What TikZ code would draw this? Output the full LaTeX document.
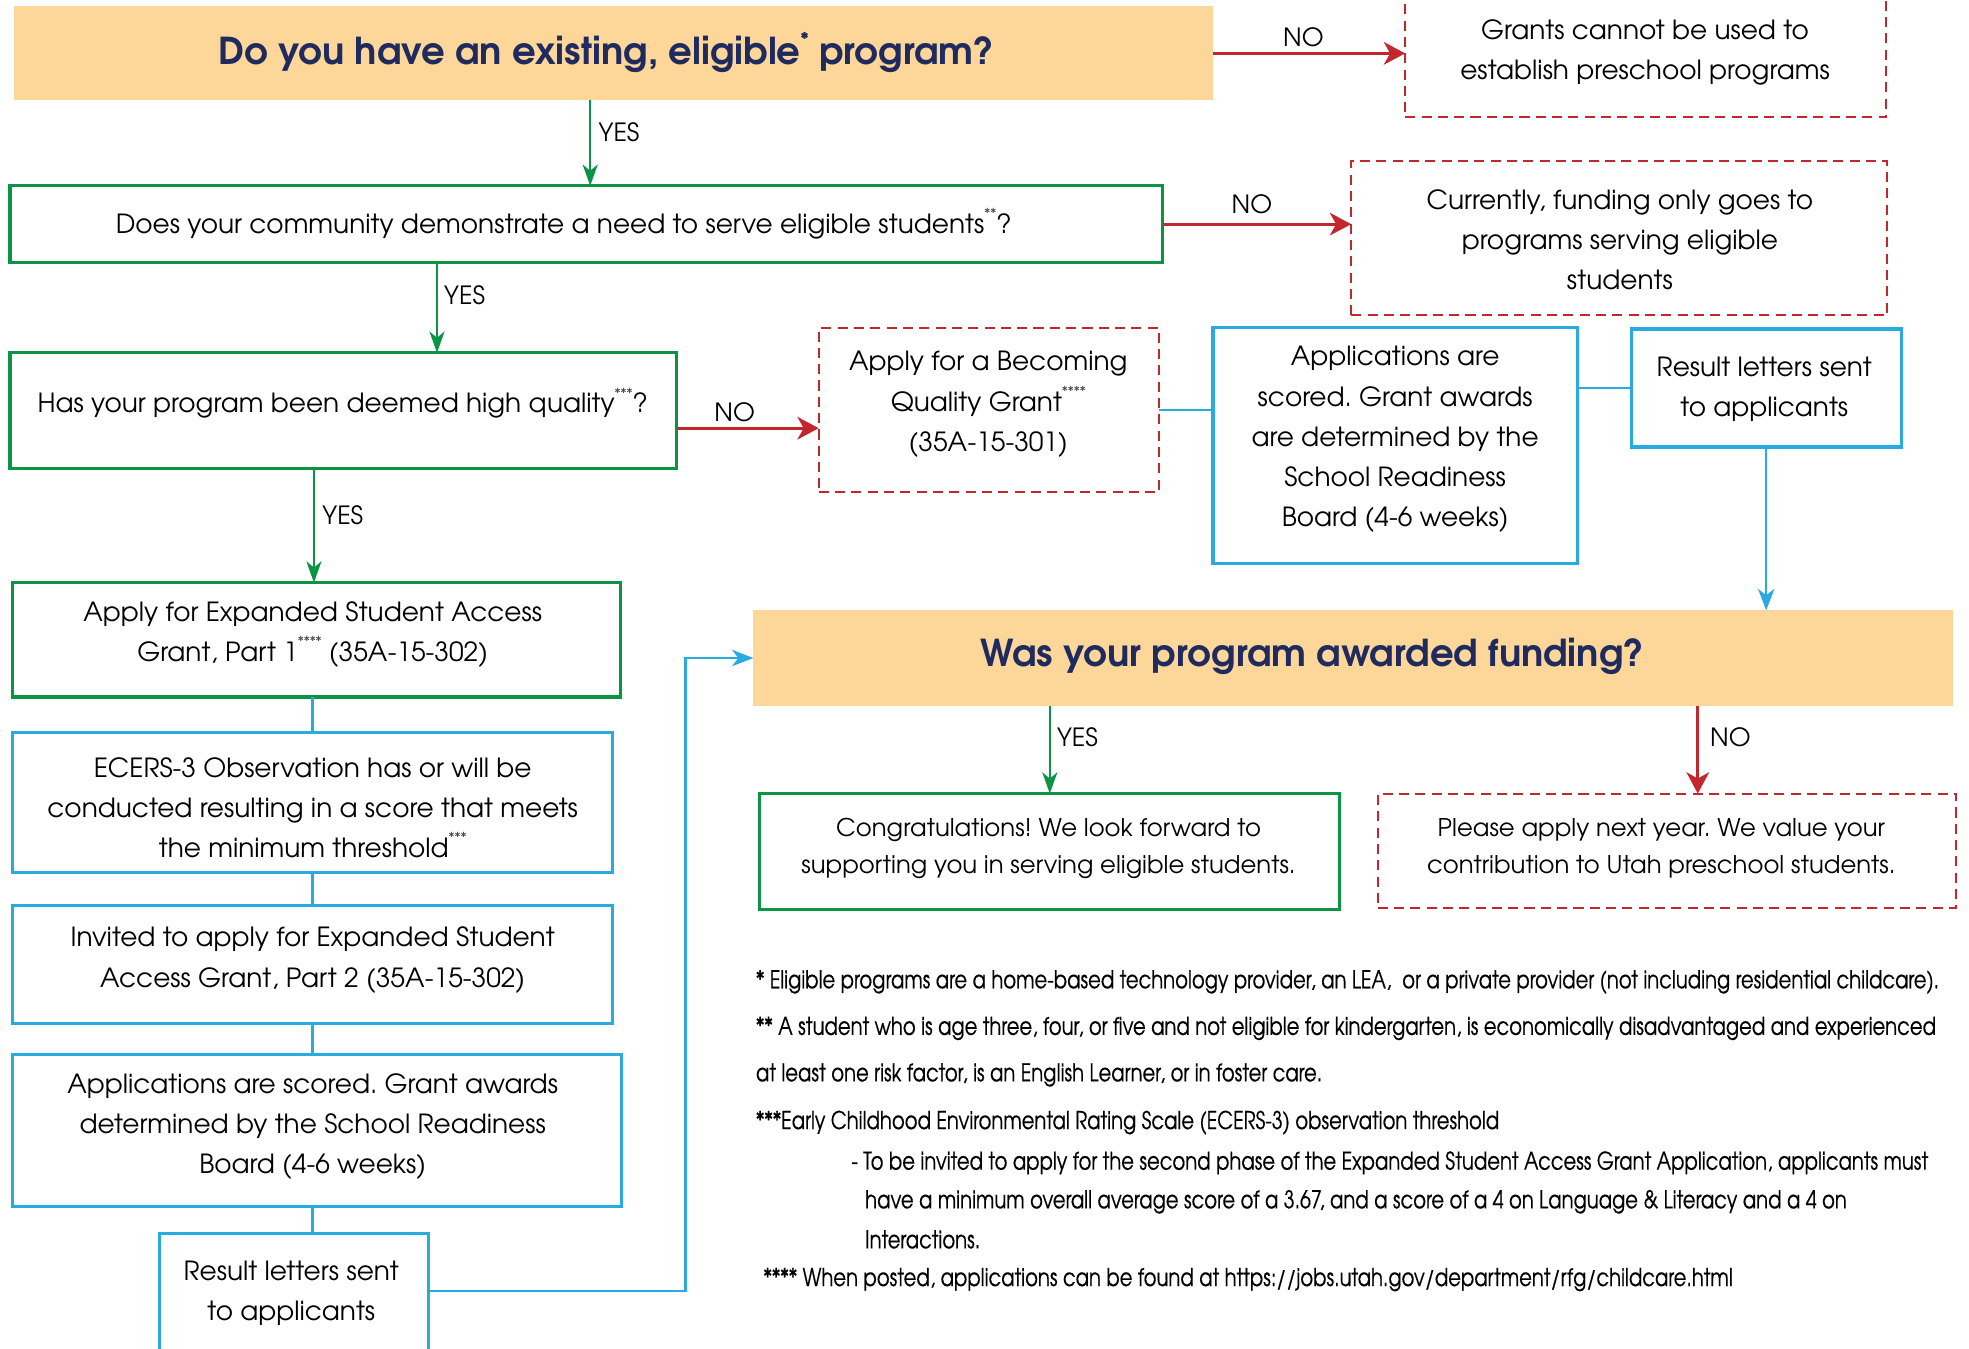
\documentclass[tikz,border=0pt]{standalone}
\usepackage{fontspec}
\setmainfont{TeX Gyre Adventor}
\newfontfamily\condfont[FakeStretch=0.8,FakeBold=0.4]{TeX Gyre Adventor}
\usetikzlibrary{arrows.meta}
\definecolor{orfill}{HTML}{FDD699}
\definecolor{navy}{HTML}{1F2A5E}
\definecolor{grn}{HTML}{0B9444}
\definecolor{rd}{HTML}{C1272D}
\definecolor{blu}{HTML}{29ABE2}
\newcommand\fnm[1]{\raisebox{0.55em}{\fontsize{11}{11}\selectfont\color{black!70}#1}}
\newcommand\fnt[1]{\raisebox{0.55em}{\fontsize{13}{13}\selectfont #1}}
\frenchspacing
\begin{document}
\begin{tikzpicture}[x=1pt,y=-1pt,
  every node/.style={inner sep=0pt, outer sep=0pt},
  qbox/.style={rectangle, fill=orfill},
  gbox/.style={rectangle, draw=grn, line width=2.5pt},
  bbox/.style={rectangle, draw=blu, line width=2.5pt},
  rbox/.style={rectangle, draw=rd, line width=1.6pt, dash pattern=on 8pt off 5pt},
  txt/.style={align=center, font=\fontsize{21}{32}\selectfont, text=black},
  stxt/.style={align=center, font=\fontsize{19.4}{29}\selectfont, text=black},
  ttl/.style={font=\bfseries\fontsize{29.5}{32}\selectfont, text=navy},
  lbl/.style={font=\fontsize{20}{24}\selectfont},
  garr/.style={draw=grn, line width=1.5pt, -{Stealth[length=17pt,width=12pt,inset=5pt]}},
  rarr/.style={draw=rd, line width=2.5pt, -{Stealth[length=17pt,width=18pt,inset=5pt]}},
  barr/.style={draw=blu, line width=2pt, -{Stealth[length=17pt,width=13pt,inset=5pt]}},
  bline/.style={draw=blu, line width=2pt},
  fn/.style={anchor=west, font=\condfont\fontsize{19.5}{24}\selectfont}
]
\useasboundingbox (0,0) rectangle (1568,1074);
% helper coordinates
\coordinate (X470) at (470,0);
\coordinate (X348) at (348,0);
\coordinate (X250) at (250,0);
\coordinate (X249) at (249,0);
\coordinate (X546) at (546,0);
\coordinate (X836) at (836,0);
\coordinate (X1352) at (1352,0);
\coordinate (Y341) at (0,341);
\coordinate (Y1028) at (0,1028);

% boxes
\node[qbox, minimum width=955pt, minimum height=75pt] (q1) at (488.5,42.5) {};
\node[rbox, minimum width=383pt, minimum height=104pt] (n1) at (1310.5,41.5) {};
\node[gbox, minimum width=918pt, minimum height=61pt] (q2) at (467,178.5) {};
\node[rbox, minimum width=427pt, minimum height=123pt] (n2) at (1289.5,189.5) {};
\node[gbox, minimum width=531pt, minimum height=92pt] (q3) at (273.5,327) {};
\node[rbox, minimum width=271pt, minimum height=131pt] (b1) at (787.5,326.5) {};
\node[bbox, minimum width=290pt, minimum height=188pt] (s1) at (1111,355) {};
\node[bbox, minimum width=215pt, minimum height=94pt] (r1) at (1406.5,309) {};
\node[qbox, minimum width=955pt, minimum height=76pt] (q4) at (1077.5,524) {};
\node[gbox, minimum width=462pt, minimum height=92pt] (c1) at (836,678) {};
\node[rbox, minimum width=461pt, minimum height=91pt] (n3) at (1327.5,677.5) {};
\node[gbox, minimum width=484pt, minimum height=91pt] (e1) at (252,509.5) {};
\node[bbox, minimum width=478pt, minimum height=112pt] (e2) at (249,639) {};
\node[bbox, minimum width=478pt, minimum height=94pt] (e3) at (249,768) {};
\node[bbox, minimum width=485pt, minimum height=121pt] (e4) at (252.5,900.5) {};
\node[bbox, minimum width=214pt, minimum height=98pt] (e5) at (234,1031) {};

% texts
\node[ttl] (q1t) at (483,42) {Do you have an existing, eligible\fnt{*} program?};
\node[txt] (n1t) at (1310,42) {Grants cannot be used to\\establish preschool programs};
\node[txt] (q2t) at (449,178) {Does your community demonstrate a need to serve eligible students\fnm{**}?};
\node[txt] (n2t) at (1290,191) {Currently, funding only goes to\\programs serving eligible\\students};
\node[txt] (q3t) at (273,321) {Has your program been deemed high quality\fnm{***}?};
\node[txt] (b1t) at (787,322) {Apply for a Becoming\\Quality Grant\fnm{****}\\(35A-15-301)};
\node[txt] (s1t) at (1111,350) {Applications are\\scored. Grant awards\\are determined by the\\School Readiness\\Board (4-6 weeks)};
\node[txt] (r1t) at (1405,310) {Result letters sent\\to applicants};
\node[ttl] (q4t) at (1045,523) {Was your program awarded funding?};
\node[stxt] (c1t) at (835,675.5) {Congratulations! We look forward to\\supporting you in serving eligible students.};
\node[stxt] (n3t) at (1323,675.5) {Please apply next year. We value your\\contribution to Utah preschool students.};
\node[txt] (e1t) at (249,505) {Apply for Expanded Student Access\\Grant, Part 1\fnm{****} (35A-15-302)};
\node[txt] (e2t) at (249,643) {ECERS-3 Observation has or will be\\conducted resulting in a score that meets\\the minimum threshold\fnm{***}};
\node[txt] (e3t) at (249,764.5) {Invited to apply for Expanded Student\\Access Grant, Part 2 (35A-15-302)};
\node[txt] (e4t) at (249,897) {Applications are scored. Grant awards\\determined by the School Readiness\\Board (4-6 weeks)};
\node[txt] (e5t) at (232,1030) {Result letters sent\\to applicants};

% connectors
\draw[rarr] (q1.east) -- (q1.east -| n1.west);
\draw[garr] (X470 |- q1.south) -- (X470 |- q2.north);
\draw[rarr] (q2.east) -- (q2.east -| n2.west);
\draw[garr] (X348 |- q2.south) -- (X348 |- q3.north);
\draw[rarr] (q3.east |- Y341) -- (b1.west |- Y341);
\draw[bline] (b1.east) -- (b1.east -| s1.west);
\draw[bline] (s1.east |- r1.west) -- (r1.west);
\draw[barr] (r1.south) -- (r1.south |- q4.north);
\draw[garr] (X250 |- q3.south) -- (X250 |- e1.north);
\draw[bline] (X249 |- e1.south) -- (X249 |- e2.north);
\draw[bline] (X249 |- e2.south) -- (X249 |- e3.north);
\draw[bline] (X249 |- e3.south) -- (X249 |- e4.north);
\draw[bline] (X249 |- e4.south) -- (X249 |- e5.north);
\draw[barr] (e5.east |- Y1028) -- (X546 |- Y1028) -- (X546 |- q4.west) -- (q4.west);
\draw[garr] (X836 |- q4.south) -- (X836 |- c1.north);
\draw[rarr] (X1352 |- q4.south) -- (X1352 |- n3.north);

% labels
\node[lbl] (l1) at (1038,30) {NO};
\node[lbl] (l2) at (493,105) {YES};
\node[lbl] (l3) at (997,163) {NO};
\node[lbl] (l4) at (370,235) {YES};
\node[lbl] (l5) at (585,328) {NO};
\node[lbl] (l6) at (273,410) {YES};
\node[lbl] (l7) at (858,587) {YES};
\node[lbl] (l8) at (1378,587) {NO};

% footnotes
\node[fn] (f1) at (602,782) {* Eligible programs are a home-based technology provider, an LEA,~ or a private provider (not including residential childcare).};
\node[fn] (f2) at (602,819) {** A student who is age three, four, or five and not eligible for kindergarten, is economically disadvantaged and experienced};
\node[fn] (f3) at (602,856) {at least one risk factor, is an English Learner, or in foster care.};
\node[fn] (f4) at (602,894) {***Early Childhood Environmental Rating Scale (ECERS-3) observation threshold};
\node[fn] (f5) at (678,926) {- To be invited to apply for the second phase of the Expanded Student Access Grant Application, applicants must};
\node[fn] (f6) at (689,957) {have a minimum overall average score of a 3.67, and a score of a 4 on Language \& Literacy and a 4 on};
\node[fn] (f7) at (689,987) {Interactions.};
\node[fn] (f8) at (608,1019) {**** When posted, applications can be found at https://jobs.utah.gov/department/rfg/childcare.html};
\end{tikzpicture}
\end{document}
